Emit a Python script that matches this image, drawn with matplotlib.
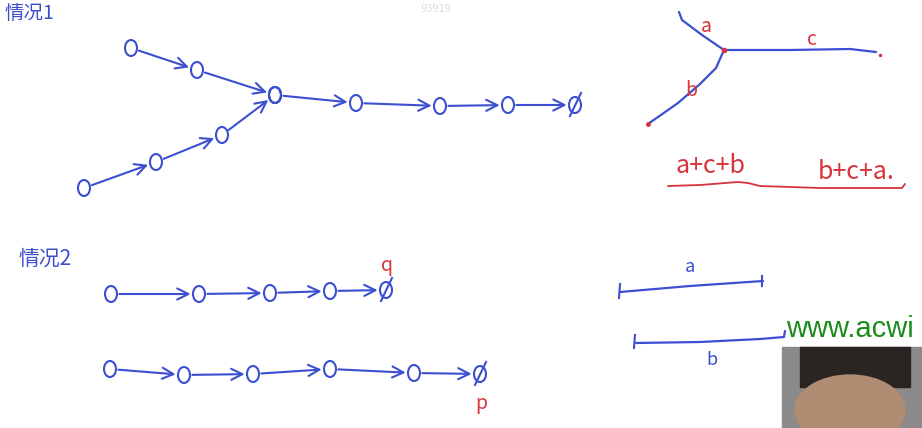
import matplotlib.pyplot as plt
from matplotlib.patches import Ellipse, Rectangle

plt.rcParams['font.family'] = ['Noto Sans CJK SC', 'DejaVu Sans']

BLUE = '#3b4fd0'
RED = '#d8333b'

# ----------------- Data (pixel positions of the sketch) -----------------
# case 1: two lists merging into one
up_x = [131, 197, 275]
up_y = [48, 70, 95]
low_x = [84, 156, 222, 275]
low_y = [188, 162, 135, 95]
main_x = [275, 356, 440, 508, 575]
main_y = [95, 103, 106, 105, 105]

# case 2: two lists, no meeting point
q_x = [111, 199, 270, 330, 386]
q_y = [294, 294, 293, 291, 290]
p_x = [110, 184, 253, 330, 414, 480]
p_y = [369, 375, 374, 369, 373, 374]

# Y-shape on the right
junction = (724, 50)
branch_a = [(679, 12), (682, 20), (702, 35), (724, 50)]
branch_c = [(724, 50), (790, 50), (850, 49), (876, 52)]
branch_b = [(724, 50), (716, 68), (700, 84), (678, 103), (648, 124)]
brace = [(668, 186), (700, 185), (738, 182), (748, 183), (760, 186), (820, 188), (880, 188), (902, 188), (905, 184)]

# two segments on the bottom right
seg_a = [(620, 292), (690, 286), (763, 281)]
seg_b = [(636, 343), (700, 342), (760, 339), (784, 337), (785, 331)]

# ----------------- Helpers -----------------
def node(ax, x, y, w=12, h=16, null=False):
    ax.add_patch(Ellipse((x, y), w, h, fill=False, ec=BLUE, lw=1.5))
    if null:
        ax.plot([x - 5, x + 6], [y + 11, y - 12], color=BLUE, lw=1.5)

def arrow(ax, x0, y0, x1, y1):
    ax.annotate('', xy=(x1, y1), xytext=(x0, y0),
                arrowprops=dict(arrowstyle='->,head_length=0.8,head_width=0.4',
                                color=BLUE, lw=1.5, shrinkA=6, shrinkB=6))

def chain(ax, xs, ys, last_null=True):
    for i in range(len(xs)):
        node(ax, xs[i], ys[i], null=(last_null and i == len(xs) - 1))
    for i in range(len(xs) - 1):
        arrow(ax, xs[i], ys[i], xs[i + 1], ys[i + 1])

def poly(ax, pts, color, lw=1.6):
    ax.plot([p[0] for p in pts], [p[1] for p in pts], color=color, lw=lw,
            solid_capstyle='round', solid_joinstyle='round')

# ----------------- Plot -----------------
fig = plt.figure(figsize=(9.22, 4.28), dpi=100)
ax = fig.add_axes([0, 0, 1, 1])
ax.set_xlim(0, 922)
ax.set_ylim(428, 0)
ax.axis('off')

ax.text(4, 13, '情况1', color=BLUE, fontsize=14, va='center', ha='left')
ax.text(436, 9, '93919', color='#dcdcdc', fontsize=8, va='center', ha='center')

chain(ax, up_x, up_y, last_null=False)
chain(ax, low_x, low_y, last_null=False)
chain(ax, main_x, main_y)

# Y shape
poly(ax, branch_a, BLUE)
poly(ax, branch_c, BLUE)
poly(ax, branch_b, BLUE)
ax.plot(*junction, 'o', color=RED, ms=3)
ax.plot(648, 124, 'o', color=RED, ms=2.5)
ax.plot(880, 55, 'o', color=RED, ms=1.5)
ax.text(706, 26, 'a', color=RED, fontsize=14, ha='center', va='center')
ax.text(812, 39, 'c', color=RED, fontsize=14, ha='center', va='center')
ax.text(691, 90, 'b', color=RED, fontsize=14, ha='center', va='center')
ax.text(710, 166, 'a+c+b', color=RED, fontsize=18, ha='center', va='center')
ax.text(856, 172, 'b+c+a.', color=RED, fontsize=18, ha='center', va='center')
poly(ax, brace, RED, lw=1.3)

# case 2
ax.text(18, 259, '情况2', color=BLUE, fontsize=15, va='center', ha='left')
chain(ax, q_x, q_y)
chain(ax, p_x, p_y)
ax.text(387, 265, 'q', color=RED, fontsize=14, ha='center', va='center', style='italic')
ax.text(481, 404, 'p', color=RED, fontsize=14, ha='center', va='center', style='italic')

poly(ax, seg_a, BLUE)
ax.plot([620, 619], [284, 298], color=BLUE, lw=1.5)
ax.plot([762, 762], [276, 286], color=BLUE, lw=1.5)
ax.text(690, 267, 'a', color=BLUE, fontsize=13, ha='center', va='center')
poly(ax, seg_b, BLUE)
ax.plot([635, 634], [335, 348], color=BLUE, lw=1.5)
ax.text(712, 360, 'b', color=BLUE, fontsize=13, ha='center', va='center')

# overlay: site name (cut by the frame) and webcam box
ax.text(786, 329, 'www.acwi', color='#1a8c1a', fontsize=21, ha='left', va='center',
        family='Liberation Sans')
ax.add_patch(Rectangle((782, 347), 140, 81, color='#8a8a8a', zorder=5))
ax.add_patch(Rectangle((800, 347), 110, 40, color='#2a2522', zorder=6))
ax.add_patch(Ellipse((850, 410), 110, 70, color='#b08c72', zorder=6))

fig.savefig('out.png', dpi=100)
